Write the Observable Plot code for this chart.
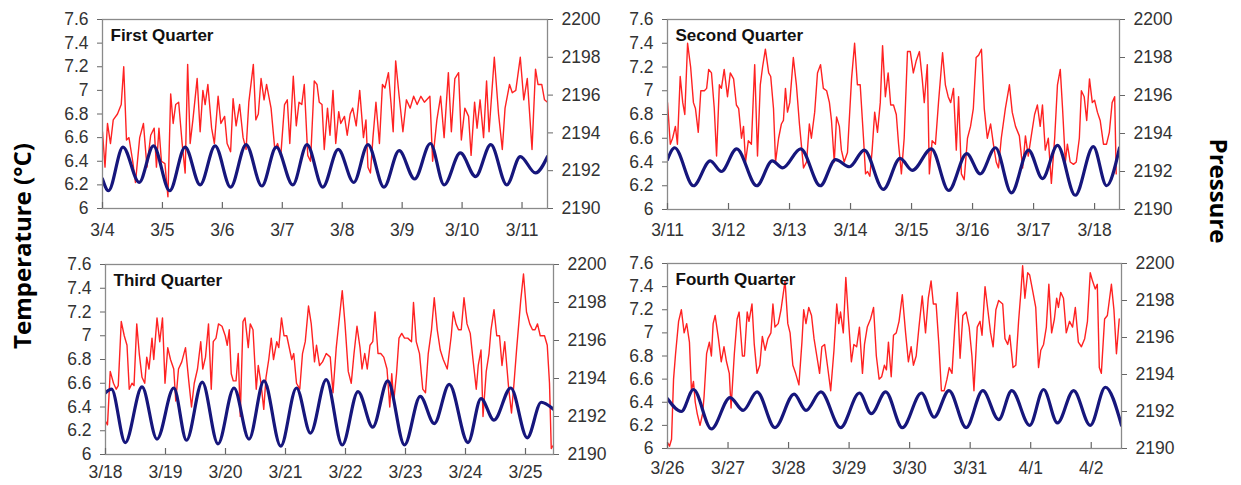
<!DOCTYPE html>
<html>
<head>
<meta charset="utf-8">
<script src="https://cdn.jsdelivr.net/npm/d3@7"></script>
<script src="https://cdn.jsdelivr.net/npm/@observablehq/plot@0.6"></script>
<style>
  html, body { margin: 0; padding: 0; background: #fff; }
  #chart { position: relative; width: 1241px; height: 485px; overflow: hidden; font-family: "Liberation Sans", Arial, sans-serif; }
  #chart svg { position: absolute; }
  .ytitle { position: absolute; font-family: "Open Sans", "Liberation Sans", sans-serif; font-weight: bold; font-size: 24px; color: #000; white-space: nowrap; line-height: 1; }
</style>
</head>
<body>
<div id="chart"></div>
<script>
// ---------- data (hours since start of panel, value) ----------
const panelTitles = ["First Quarter", "Second Quarter", "Third Quarter", "Fourth Quarter"];
const q1Ticks = ["3/4","3/5","3/6","3/7","3/8","3/9","3/10","3/11"];
const q2Ticks = ["3/11","3/12","3/13","3/14","3/15","3/16","3/17","3/18"];
const q3Ticks = ["3/18","3/19","3/20","3/21","3/22","3/23","3/24","3/25"];
const q4Ticks = ["3/26","3/27","3/28","3/29","3/30","3/31","4/1","4/2"];
const panelHours = [178.2, 177.8, 179.2, 180];
const tempTicks = [6, 6.2, 6.4, 6.6, 6.8, 7, 7.2, 7.4, 7.6];
const pressureTicks = [2190, 2192, 2194, 2196, 2198, 2200];

const q1Temp = [[0,6.65],[1,6.35],[2,6.72],[3.2,6.55],[4.3,6.75],[6,6.8],[7.5,6.88],[8.5,7.2],[9.6,6.58],[10.6,6.6],[12.1,6.4],[13.2,6.22],[14.9,6.6],[16.4,6.72],[17.8,6.35],[19.3,6.62],[20.7,6.68],[21.6,6.35],[22.6,6.68],[23.6,6.4],[25,6.38],[26.2,6.1],[27.3,6.97],[28.3,6.72],[29.3,6.88],[30.5,6.9],[31.9,6.55],[33.1,6.3],[34.1,7.22],[35.1,6.55],[36.2,6.75],[37.9,7.1],[39.1,6.65],[40.2,7.0],[41.1,6.88],[42.2,7.05],[43.7,6.68],[44.8,6.55],[46.3,6.95],[47.4,6.72],[48.9,6.78],[49.9,6.55],[51.3,6.48],[52.3,6.93],[53.5,6.7],[54.9,6.88],[56.3,6.6],[57.5,6.5],[58.6,6.9],[60.4,7.22],[61.4,6.75],[62.4,6.8],[63.5,7.1],[64.7,6.92],[65.7,7.05],[67.5,6.85],[69,6.5],[70.1,6.55],[71.4,6.45],[72.9,6.88],[74,6.92],[75,6.55],[76.4,7.12],[77.6,6.7],[78.7,6.9],[79.8,6.88],[80.8,7.05],[82.2,6.45],[83.3,6.4],[84.8,7.08],[85.9,7.05],[86.8,6.9],[87.9,6.88],[88.8,6.5],[90.1,6.85],[91.1,6.62],[92.3,7.0],[93.4,6.55],[94.6,6.82],[95.4,6.72],[96.9,6.78],[98,6.62],[99.2,6.8],[100.2,6.85],[101.6,6.7],[103,7.0],[104.5,6.6],[105.5,6.75],[106.3,6.35],[107.3,6.3],[108.3,6.6],[109.5,6.9],[110.9,6.55],[112.1,7.05],[113.1,7.02],[114.5,7.15],[115.5,6.9],[116.4,6.65],[117.4,7.25],[118.8,6.95],[120.3,6.65],[121.7,6.92],[123.2,6.85],[124.6,6.95],[126,6.88],[127.5,6.95],[128.9,6.9],[131.1,6.95],[132.2,6.4],[133.9,6.75],[135.4,6.95],[136.8,6.6],[138.5,7.15],[139.7,6.65],[141.1,7.1],[142.6,7.15],[143.7,6.58],[145.1,6.85],[146.6,6.78],[147.6,6.45],[149,6.9],[150,6.68],[151.2,6.92],[152.6,6.6],[153.8,7.08],[154.8,6.65],[156.9,7.28],[158.6,6.8],[160.1,6.5],[161.2,6.85],[163,7.05],[164.1,6.98],[165.5,7.0],[167.3,7.28],[168.7,6.92],[170.1,7.1],[172,6.5],[173.4,7.18],[174.4,7.05],[175.9,7.05],[177,6.92],[178.2,6.9]];
const q1Pressure = [[0,2191.56],[2.4,2190.94],[8.2,2193.25],[14.7,2191.38],[20.4,2193.31],[26.9,2190.94],[33.1,2193.25],[39.1,2191.25],[45.1,2193.31],[51.3,2191.13],[57.5,2193.38],[63.8,2191.19],[69.6,2193.25],[76.2,2191.25],[81.9,2193.38],[88.2,2191.13],[94.4,2193.13],[100.6,2191.38],[106.3,2193.38],[112.7,2191.13],[118.8,2193.06],[125,2191.56],[131.3,2193.44],[136.8,2191.25],[143.3,2192.94],[149.4,2191.69],[155.5,2193.38],[161.9,2191.25],[167.3,2192.75],[173.4,2191.88],[178.2,2192.75]];

const q2Temp = [[0,6.9],[1.1,6.55],[2,6.6],[3.1,6.7],[3.9,6.55],[5,7.12],[6,6.9],[6.8,6.8],[7.9,7.4],[9.1,7.2],[10.2,6.9],[11,6.85],[12.1,6.65],[13.1,7.0],[14.5,7.0],[15.4,7.02],[16.2,7.18],[17.3,7.15],[18.4,6.85],[19.3,6.45],[20.4,7.05],[21.2,7.02],[22.3,7.18],[23.6,6.95],[24.7,7.15],[26,7.1],[27.1,6.88],[28,6.85],[29.1,6.6],[29.9,6.7],[30.7,6.4],[31.8,6.58],[33,6.55],[34.3,7.22],[35.4,6.45],[36.5,7.05],[37.4,7.2],[38.5,7.35],[39.8,7.15],[40.6,7.12],[41.7,6.85],[42.5,6.4],[43.7,6.6],[44.8,6.72],[45.6,6.75],[46.4,7.02],[47.2,6.82],[48.1,6.9],[49.5,7.28],[50.7,7.05],[51.9,6.72],[53.5,6.35],[54.7,6.4],[55.8,6.72],[56.6,6.6],[57.9,6.82],[59,7.15],[60.2,7.22],[61.3,7.02],[62.6,7.0],[63.7,6.9],[64.5,6.75],[65.6,6.4],[66.5,6.78],[67.6,6.7],[68.4,6.5],[69.5,6.4],[70.8,6.48],[72.4,7.1],[73.6,7.4],[74.7,7.05],[75.8,7.05],[77.1,6.6],[77.9,6.3],[78.7,6.32],[79.6,6.28],[80.5,6.5],[81.5,6.82],[82.6,6.65],[83.7,6.9],[84.6,7.38],[85.7,6.95],[86.8,7.15],[87.8,6.88],[88.9,6.88],[90,6.8],[90.9,6.55],[92,6.3],[93.1,6.6],[94.4,7.33],[95.5,7.33],[96.7,7.15],[97.8,7.25],[99.1,7.33],[100.2,7.1],[101,6.9],[102.2,7.22],[103,6.3],[104.1,6.58],[105.4,6.55],[106.6,6.9],[108.2,7.32],[109.3,7.05],[110.4,6.95],[111.4,6.9],[112.5,7.02],[113.6,6.5],[114.5,6.95],[115.6,6.3],[116.7,6.25],[118,6.6],[119.2,6.7],[120.3,6.85],[121.4,7.28],[122.4,7.3],[123.5,7.35],[124.6,6.85],[125.8,6.6],[127.1,6.72],[128.2,6.55],[129.3,6.4],[130.2,6.35],[131.3,6.6],[132.9,6.85],[134.5,7.05],[135.6,6.82],[136.9,6.7],[138.4,6.62],[139.7,6.35],[140.8,6.62],[141.9,6.45],[143.1,6.62],[144.4,6.8],[145.5,6.88],[146.6,6.7],[147.5,6.88],[148.6,6.5],[149.8,6.6],[151,6.22],[152.3,6.6],[153.4,7.05],[154.5,7.18],[155.4,6.85],[156.5,6.4],[157.3,6.55],[158.4,6.4],[159.7,6.38],[160.8,6.4],[162,6.6],[162.8,7.0],[163.9,6.95],[164.9,6.75],[166,7.1],[167.1,6.9],[168,6.92],[169.1,6.82],[170.2,6.75],[171.5,6.55],[172.7,6.55],[173.8,6.65],[174.9,6.9],[175.9,6.95],[176.5,6.3]];
const q2Pressure = [[0,2192.63],[2.8,2193.25],[10.2,2191.25],[16.8,2192.56],[21.2,2192.0],[27.2,2193.19],[35.1,2191.25],[41.2,2192.56],[45.3,2192.19],[52.4,2193.19],[60.1,2191.25],[66.1,2192.63],[71.6,2192.25],[77.4,2193.13],[84.9,2191.06],[91.5,2192.69],[96.3,2192.06],[103.8,2193.19],[110.6,2191.0],[117.7,2192.94],[123,2191.88],[129,2193.25],[135.3,2190.88],[142,2193.13],[147.5,2191.63],[153.4,2193.38],[160.4,2190.75],[167.5,2193.31],[172.7,2191.25],[177.8,2193.25]];

const q3Temp = [[0,6.28],[0.8,6.25],[1.9,6.7],[3.2,6.6],[4.3,6.55],[5.1,6.58],[6.3,7.12],[7.5,7.0],[8.6,6.92],[9.5,6.55],[10.6,6.6],[11.4,6.58],[12.5,7.1],[13.5,6.85],[14.6,6.65],[15.7,6.6],[16.5,6.82],[17.4,6.72],[18.6,6.98],[19.3,6.8],[20.6,7.15],[21.7,6.95],[22.8,7.15],[23.8,6.6],[24.9,6.9],[26,6.8],[27.3,6.72],[28.1,6.45],[29.2,6.72],[30.5,6.78],[32,6.9],[33.3,6.62],[34.4,6.4],[35.5,6.6],[36.8,6.72],[38.1,6.95],[38.9,6.72],[40,6.82],[41.2,7.1],[42.3,6.55],[43.1,6.95],[44.2,6.98],[45.2,7.1],[46.6,7.08],[47.9,7.0],[48.7,6.92],[49.5,7.05],[50.3,6.68],[51.1,6.62],[52.2,6.62],[53.1,6.85],[53.9,6.32],[55,7.12],[55.8,7.15],[57.1,6.9],[57.9,7.1],[59,7.05],[60.3,6.55],[61.1,6.75],[62.2,6.6],[63.3,6.38],[64.2,6.65],[65.3,6.8],[66.3,6.98],[67.2,6.8],[68.5,6.95],[69.3,6.9],[70.4,7.15],[71.4,7.0],[72.5,7.0],[73.7,6.88],[74.5,6.8],[75.3,6.85],[76.4,6.6],[77.7,6.55],[78.8,6.85],[79.9,6.95],[81.2,7.25],[82.3,7.1],[83.6,6.78],[84.4,6.92],[85.6,6.75],[86.8,6.78],[88.3,6.85],[89.9,6.82],[91,6.52],[92.3,6.9],[93.4,7.12],[94.7,7.38],[95.8,7.1],[97.1,6.7],[98.3,6.6],[99.4,6.85],[100.6,7.08],[101.8,6.9],[102.6,6.72],[103.7,6.85],[104.7,6.72],[105.8,6.92],[106.9,6.95],[107.8,7.2],[109,6.85],[110.1,6.85],[111.3,6.82],[112.6,6.72],[113.7,6.4],[114.5,6.68],[115.3,6.45],[116.4,6.68],[117.4,6.98],[118.5,7.02],[119.6,6.98],[120.9,6.98],[122.4,6.95],[123.2,7.28],[124.3,6.95],[125.6,6.85],[126.9,6.55],[128,6.52],[129.1,6.85],[130.4,7.05],[131.5,7.32],[132.7,7.05],[133.9,6.88],[135.1,6.8],[136.7,6.72],[138.3,7.0],[139.1,7.2],[140.2,7.1],[141.2,7.05],[142.3,7.05],[143.4,7.32],[144.6,7.1],[145.9,7.02],[147,6.8],[148.3,6.55],[149.1,6.75],[150.2,6.88],[151,6.32],[152.3,6.7],[153.4,6.85],[154.2,7.05],[155.4,7.22],[156.5,7.0],[157.6,7.0],[158.6,6.75],[159.7,6.95],[161.3,6.55],[162.4,6.35],[163.4,6.6],[164.5,6.9],[166.1,7.3],[167.2,7.52],[168.4,7.2],[169.7,7.1],[170.8,7.05],[171.8,7.05],[172.8,7.1],[173.9,7.0],[175.6,7.0],[176.7,6.92],[177.6,6.6],[178.3,6.05],[179.2,6.08]];
const q3Pressure = [[0,2193.25],[2.4,2193.44],[7.9,2190.63],[14.6,2193.56],[20.6,2190.81],[27.3,2193.5],[32.4,2190.75],[38.7,2193.81],[45,2190.56],[51.4,2193.5],[57.4,2190.81],[63.4,2193.88],[70.1,2190.44],[76.4,2193.5],[82,2191.13],[88.3,2193.94],[94.7,2190.5],[101,2193.31],[106.9,2191.44],[112.9,2193.88],[119.6,2190.5],[125.9,2193.06],[131.5,2191.63],[137.5,2193.69],[145,2190.63],[150.2,2192.94],[155.4,2191.81],[162.1,2193.5],[168.7,2190.88],[174.3,2192.75],[179.2,2192.38]];

const q4Temp = [[0,6.05],[0.8,6.02],[1.6,6.08],[2.4,6.6],[3.2,6.82],[4.4,7.1],[5.5,7.2],[6.6,7.0],[7.6,7.08],[8.7,6.92],[9.5,6.5],[10.3,6.58],[11,6.4],[11.8,6.3],[12.9,6.2],[13.9,6.3],[14.5,6.45],[15.5,6.82],[16.6,6.92],[17.4,6.8],[18.1,7.08],[18.9,7.15],[20.2,6.95],[21.3,6.75],[22.4,6.88],[23.4,6.75],[24.5,6.65],[25.2,6.35],[26.5,6.82],[27.6,7.12],[28.4,7.18],[29.7,6.8],[30.5,6.8],[31.6,7.18],[32.3,7.1],[33.5,7.25],[34.4,6.9],[35.5,6.65],[36.6,6.72],[37.6,6.97],[38.7,6.85],[39.8,6.95],[41,7.0],[41.8,7.25],[42.6,7.05],[43.9,7.08],[45,7.2],[46.6,7.45],[47.7,7.08],[48.6,7.0],[49.7,6.72],[50.8,6.65],[52.1,6.55],[53.3,6.92],[54,7.2],[54.9,7.08],[56,7.22],[57.1,7.15],[58.1,6.95],[59.2,6.8],[60.3,6.65],[61.2,6.88],[62.3,6.9],[63.4,6.72],[64.7,6.5],[66,6.85],[67.1,7.25],[67.9,7.08],[68.6,7.18],[69.7,7.0],[70.7,7.48],[71.8,7.1],[72.9,6.75],[73.9,6.9],[75,6.88],[76.1,7.05],[77.3,6.65],[78.1,6.9],[79.2,7.05],[80.5,7.12],[81.7,7.22],[82.8,6.8],[83.9,6.6],[84.9,6.62],[86,6.72],[86.8,6.68],[87.6,6.92],[88.7,6.62],[89.6,6.98],[90.7,7.0],[91.8,7.1],[93.1,7.33],[94.4,7.0],[95.5,6.75],[96.6,6.88],[97.5,6.72],[98.6,6.8],[99.7,7.05],[101,7.32],[102.3,7.0],[103.4,7.3],[104.5,7.45],[105.4,7.25],[106.5,7.25],[107.6,6.9],[108.6,6.5],[109.7,6.5],[110.8,6.6],[111.7,6.7],[112.8,6.65],[113.9,7.05],[114.9,7.35],[116,6.78],[117.1,7.15],[118.4,7.18],[119.6,7.05],[120.7,6.8],[121.5,6.5],[122.8,7.05],[123.9,7.1],[124.7,6.98],[125.9,7.4],[127,7.2],[128.1,7.0],[129.1,6.88],[130.2,7.2],[131.3,7.28],[132.9,7.25],[133.8,6.95],[134.9,6.9],[135.7,6.98],[137,6.7],[138.1,6.72],[139.2,7.1],[140.1,7.35],[140.8,7.58],[141.7,7.3],[142.8,7.52],[143.6,7.5],[144.9,7.35],[146,7.22],[147.1,6.7],[148,6.85],[149.1,6.9],[150.2,7.05],[151.2,7.42],[152.3,7.0],[153.4,7.12],[154.3,7.3],[155,7.22],[155.9,7.35],[157,7.3],[158.1,7.0],[159.4,7.1],[160.6,7.05],[161.7,7.22],[162.9,6.92],[164.1,6.88],[165.4,6.95],[166.5,7.1],[167.6,7.52],[168.5,7.45],[169.6,7.38],[170.4,7.42],[171.2,6.7],[172,6.65],[173.3,7.12],[174.4,7.15],[176,7.42],[177,7.2],[178,6.82],[179.1,7.12]];
const q4Pressure = [[0,2192.69],[5.5,2192.0],[10.3,2193.19],[17.4,2191.06],[24.8,2192.75],[30,2192.06],[35.5,2193.06],[42.6,2191.13],[50.2,2192.94],[54.9,2192.06],[60.8,2193.06],[68.6,2191.13],[76.1,2193.0],[80.8,2191.88],[86.5,2193.06],[93.1,2191.13],[100.7,2193.0],[105.7,2191.69],[111.6,2193.13],[118.4,2191.13],[125,2193.13],[131.3,2191.56],[136.5,2193.13],[143.6,2191.25],[149.1,2193.19],[154.6,2191.38],[161,2193.13],[167.6,2191.25],[173.6,2193.31],[180,2191.25]];

// ---------- drawing ----------
const tempMin = 6, tempMax = 7.6, pMin = 2190, pMax = 2200;
const toT = p => tempMin + (p - pMin) * (tempMax - tempMin) / (pMax - pMin);

const panels = [
  {title: panelTitles[0], ticks: q1Ticks, temp: q1Temp, press: q1Pressure, hours: panelHours[0], left: 0,   top: 0,   ml: 102, mt: 19, iw: 445, ih: 189, pad: 15},
  {title: panelTitles[1], ticks: q2Ticks, temp: q2Temp, press: q2Pressure, hours: panelHours[1], left: 600, top: 0,   ml: 67,  mt: 19, iw: 452, ih: 190, pad: 14},
  {title: panelTitles[2], ticks: q3Ticks, temp: q3Temp, press: q3Pressure, hours: panelHours[2], left: 0,   top: 240, ml: 105, mt: 24, iw: 448, ih: 190, pad: 11},
  {title: panelTitles[3], ticks: q4Ticks, temp: q4Temp, press: q4Pressure, hours: panelHours[3], left: 600, top: 240, ml: 67,  mt: 23, iw: 454, ih: 185, pad: 13}
];

const chart = document.getElementById("chart");
const fontFamily = "'Liberation Sans', Arial, sans-serif";

for (const p of panels) {
  const mr = 60;
  const mb = 485 - p.top - p.mt - p.ih;
  const dayIdx = p.ticks.map((_, i) => i);
  const svg = Plot.plot({
    width: p.ml + p.iw + mr,
    height: p.mt + p.ih + mb,
    marginLeft: p.ml, marginRight: mr, marginTop: p.mt, marginBottom: mb,
    style: {background: "transparent", fontFamily, fontSize: "17.5px", color: "#333"},
    x: {domain: [0, p.hours / 24]},
    y: {domain: [tempMin, tempMax]},
    marks: [
      Plot.line(p.temp, {x: d => d[0] / 24, y: d => d[1], stroke: "#ff2222", strokeWidth: 1.4, clip: true}),
      Plot.line(p.press, {x: d => d[0] / 24, y: d => toT(d[1]), stroke: "#16167c", strokeWidth: 3.2, curve: "monotone-x", clip: true}),
      Plot.frame({stroke: "#8a8a8a", strokeWidth: 1.3}),
      Plot.tickX(dayIdx, {x: d => d, insetTop: p.ih - 6, stroke: "#666", strokeWidth: 1.2}),
      Plot.axisX({ticks: dayIdx, tickSize: 0, tickPadding: p.pad, tickFormat: i => p.ticks[i], fontSize: 17.5, label: null}),
      Plot.axisY({anchor: "left", ticks: tempTicks, tickSize: 5, tickPadding: 9, tickFormat: d => String(+d.toFixed(1)), fontSize: 17.5, stroke: "#666", label: null}),
      Plot.axisY({anchor: "right", ticks: pressureTicks.map(toT), tickSize: 5, tickPadding: 9, tickFormat: (d, i) => String(pressureTicks[i]), fontSize: 17.5, stroke: "#666", label: null}),
      Plot.text([p.title], {frameAnchor: "top-left", dx: 8, dy: 9, lineAnchor: "top", textAnchor: "start", fontWeight: "bold", fontSize: 17, fill: "#111"})
    ]
  });
  svg.style.left = p.left + "px";
  svg.style.top = p.top + "px";
  chart.appendChild(svg);
}

// axis titles
const tTitle = document.createElement("div");
tTitle.className = "ytitle";
tTitle.textContent = "Temperature (°C)";
chart.appendChild(tTitle);
const pTitle = document.createElement("div");
pTitle.className = "ytitle";
pTitle.textContent = "Pressure";
chart.appendChild(pTitle);
function place(el, cx, cy, rot) {
  const w = el.offsetWidth, h = el.offsetHeight;
  el.style.left = (cx - w / 2) + "px";
  el.style.top = (cy - h / 2) + "px";
  el.style.transform = `rotate(${rot}deg)`;
}
place(tTitle, 22, 246, -90);
place(pTitle, 1219, 191, 90);
</script>
</body>
</html>
